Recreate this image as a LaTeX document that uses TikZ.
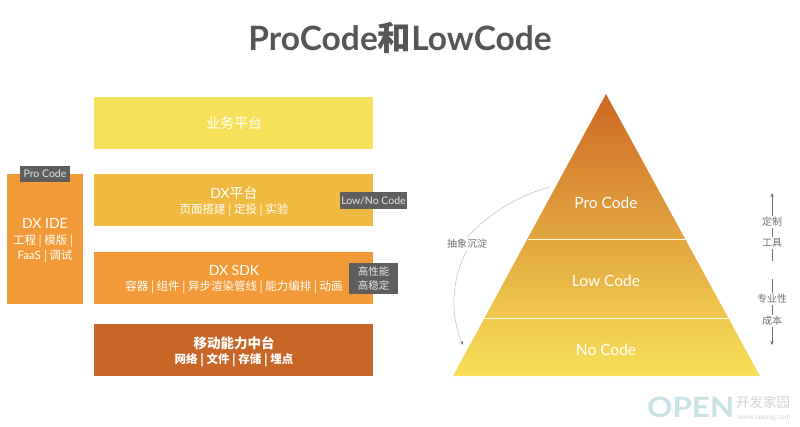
\documentclass[tikz,border=0pt]{standalone}
\usepackage{fontspec}
\setmainfont{Lato}
\newfontfamily\cjk{Noto Sans CJK SC}
\usetikzlibrary{arrows.meta}
\newcommand{\fs}[1]{\fontsize{#1}{#1}\selectfont}
\newcommand{\zh}[1]{{\cjk #1}}
\definecolor{tagGray}{HTML}{5E5E5E}
\definecolor{titleGray}{HTML}{565656}
\definecolor{noteGray}{HTML}{707070}
\definecolor{yellowBox}{HTML}{F7E05A}
\definecolor{goldBox}{HTML}{F0BA40}
\definecolor{orangeBox}{HTML}{F29A38}
\definecolor{rustBox}{HTML}{C86628}
\begin{document}
\begin{tikzpicture}[x=1pt,y=-1pt,
    panel/.style={rectangle,anchor=north west,inner sep=0pt,minimum width=279pt,minimum height=52pt},
    boxtitle/.style={text=white,inner sep=0pt,font=\fs{14}},
    boxsub/.style={text=white,inner sep=0pt,font=\fs{11.5}},
    tag/.style={fill=tagGray,text=white!90!black,inner sep=0pt,align=center,font=\fs{10.5}},
    pyrtext/.style={text=white,inner sep=0pt,font=\fs{15.5}},
    note/.style={text=noteGray,inner sep=1.5pt,font=\fs{10}},
    guide/.style={draw=noteGray,line width=0.7pt},
    arcline/.style={draw=gray!65,line width=0.5pt,dash pattern=on 1.5pt off 0.6pt}]
    \useasboundingbox (0,0) rectangle (800,427);

    \node[text=titleGray,inner sep=0pt,font=\fs{33.5}\bfseries] (title) at (400,38) {ProCode{\cjk\bfseries 和}LowCode};

    % left stack
    \node[panel,fill=yellowBox] (biz) at (94,97) {};
    \node[panel,fill=goldBox] (dxplat) at (94,174) {};
    \node[panel,fill=orangeBox] (dxsdk) at (94,252) {};
    \node[panel,fill=rustBox] (mobile) at (94,324) {};
    \node[panel,fill=orangeBox,minimum width=76pt,minimum height=130pt] (dxide) at (7,174) {};

    \node[boxtitle] (bizname) at (234,123) {\zh{业务平台}};
    \node[boxtitle] (platname) at (234,193) {DX\zh{平台}};
    \node[boxsub] (platsub) at (234,210) {\zh{页面搭建 | 定投 | 实验}};
    \node[boxtitle] (sdkname) at (234,270) {DX SDK};
    \node[boxsub] (sdksub) at (234,287) {\zh{容器 | 组件 | 异步渲染管线 | 能力编排 | 动画}};
    \node[boxtitle,font=\fs{13.5}] (mobname) at (234,343) {{\cjk\bfseries 移动能力中台}};
    \node[boxsub] (mobsub) at (234,360) {{\cjk\bfseries 网络 | 文件 | 存储 | 埋点}};
    \node[boxtitle] (idename) at (45,223) {DX IDE};
    \node[boxsub] (idesub1) at (43,241) {\zh{工程 | 模版 |}};
    \node[boxsub] (idesub2) at (45,256) {FaaS \zh{| 调试}};

    \node[tag,minimum width=50pt,minimum height=16pt] (protag) at (45,174) {Pro Code};
    \node[tag,minimum width=67pt,minimum height=17pt] (lowtag) at (373.5,200.5) {Low/No Code};
    \node[tag,minimum width=49pt,minimum height=31pt] (perftag) at (373.5,278.5) {\zh{高性能}\\[3pt]\zh{高稳定}};

    % pyramid
    \shade[top color=rustBox!90!orange,bottom color=yellowBox] (606,94) -- (760,376) -- (453,376) -- cycle;
    \coordinate (lineAl) at (528,239);
    \coordinate (lineAr) at (685,239);
    \coordinate (lineBl) at (483,318);
    \coordinate (lineBr) at (728,318);
    \draw[white!85!yellow,line width=0.8pt] (lineAl) -- (lineAr);
    \draw[white!85!yellow,line width=0.8pt] (lineBl) -- (lineBr);
    \node[pyrtext] (pro) at (606,203) {Pro Code};
    \node[pyrtext] (low) at (606,281) {Low Code};
    \node[pyrtext] (no) at (606,350) {No Code};

    % abstraction arc
    \coordinate (arcfrom) at (550,187);
    \coordinate (arcto) at (463,345);
    \node[note] (abstract) at (467,244) {\zh{抽象沉淀}};
    \draw[arcline] (arcfrom) .. controls (520,195) and (490,212) .. (abstract.north);
    \draw[arcline,-{Stealth[length=4pt,width=3pt,color=noteGray]}] (abstract.south) .. controls (451,280) and (450,315) .. (arcto);

    % right scale
    \coordinate (uptip) at (772,193);
    \coordinate (upend) at (772,261);
    \coordinate (downstart) at (772,279);
    \coordinate (downtip) at (772,345);
    \node[note] (dingzhi) at (772,222) {\zh{定制}};
    \node[note] (gongju) at (772,243) {\zh{工具}};
    \node[note] (zhuanye) at (772,299) {\zh{专业性}};
    \node[note] (chengben) at (772,321) {\zh{成本}};
    \draw[guide,-{Stealth[length=4pt,width=3.5pt]}] (dingzhi) -- (uptip);
    \draw[guide] (dingzhi) -- (gongju);
    \draw[guide] (gongju) -- (upend);
    \draw[guide] (downstart) -- (zhuanye);
    \draw[guide] (zhuanye) -- (chengben);
    \draw[guide,-{Stealth[length=4pt,width=3.5pt]}] (chengben) -- (downtip);

    % watermark
    \node[anchor=west,inner sep=0pt,text=teal!22,xscale=1.12,font=\fs{28}\bfseries] (openmark) at (647,407) {OPEN};
    \node[anchor=west,inner sep=0pt,text=gray!35,font=\fs{13.5}] (openzh) at (736,402) {\zh{开发家园}};
    \node[anchor=west,inner sep=0pt,text=gray!35,font=\fs{7}] (openurl) at (737,418) {www.openjg.com};
\end{tikzpicture}
\end{document}
